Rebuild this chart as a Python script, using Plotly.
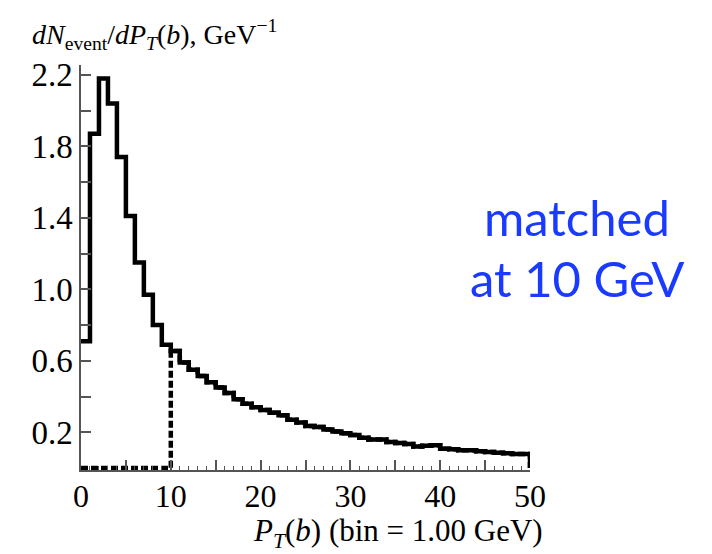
import plotly.graph_objects as go

# Bin edges (GeV) and per-bin contents of dN/dPT for the b quark
bin_edges = list(range(0, 51))
pt_counts = [
    0.71, 1.87, 2.18, 2.04, 1.74, 1.41, 1.15, 0.97, 0.80, 0.69,
    0.655, 0.59, 0.55, 0.515, 0.48, 0.45, 0.42, 0.385, 0.36, 0.34,
    0.325, 0.31, 0.295, 0.27, 0.255, 0.235, 0.23, 0.215, 0.205, 0.195,
    0.185, 0.17, 0.16, 0.16, 0.145, 0.14, 0.135, 0.12, 0.125, 0.128,
    0.108, 0.105, 0.10, 0.10, 0.094, 0.09, 0.085, 0.083, 0.078, 0.078,
]
match_pt = 10  # matching scale, GeV

# Matched sample: empty below the matching scale
matched_counts = [0.0 if e < match_pt else c for e, c in zip(bin_edges[:-1], pt_counts)]

# Tick positions
x_range = [0, 50]
y_range = [-0.011, 2.255]
x_long_ticks = list(range(0, 51, 5))
y_long_ticks = [round(0.2 * k, 1) for k in range(1, 12)]

fig = go.Figure()

# Dashed histogram (matched), closed back to zero at the last edge
fig.add_trace(go.Scatter(
    x=bin_edges,
    y=matched_counts + [0.0],
    mode="lines",
    line=dict(shape="hv", color="black", width=4.5, dash="7px,3px"),
    hoverinfo="skip",
))

# Solid histogram (full spectrum)
fig.add_trace(go.Scatter(
    x=bin_edges,
    y=pt_counts + [0.0],
    mode="lines",
    line=dict(shape="hv", color="black", width=4.5),
    hoverinfo="skip",
))

# Empty trace registering the overlay axes that carry the longer tick marks
fig.add_trace(go.Scatter(x=[], y=[], xaxis="x2", yaxis="y2",
                         mode="lines", hoverinfo="skip"))

serif = "Liberation Serif, Times New Roman, serif"
axis_color = "#555555"

fig.update_layout(
    template="none",
    width=712,
    height=554,
    margin=dict(l=81, r=182, t=65, b=84),
    paper_bgcolor="white",
    plot_bgcolor="white",
    showlegend=False,
    font=dict(family=serif, color="black"),
    xaxis=dict(
        range=x_range,
        tickmode="linear",
        tick0=0,
        dtick=10,
        ticks="inside",
        ticklen=10,
        tickwidth=1.5,
        tickcolor=axis_color,
        showline=True,
        linecolor=axis_color,
        linewidth=1.5,
        showgrid=False,
        zeroline=False,
        tickfont=dict(family=serif, size=32),
        ticklabelstandoff=-3,
        minor=dict(tickmode="linear", tick0=0, dtick=1, ticks="inside",
                   ticklen=4, tickcolor=axis_color, tickwidth=1.2, showgrid=False),
    ),
    yaxis=dict(
        range=y_range,
        tickmode="linear",
        tick0=0.2,
        dtick=0.4,
        tickformat=".1f",
        ticks="inside",
        ticklen=10,
        tickwidth=1.5,
        tickcolor=axis_color,
        showline=True,
        linecolor=axis_color,
        linewidth=1.5,
        showgrid=False,
        zeroline=False,
        tickfont=dict(family=serif, size=33),
    ),
    xaxis2=dict(
        range=x_range,
        overlaying="x",
        anchor="y",
        side="bottom",
        showline=False,
        showgrid=False,
        zeroline=False,
        showticklabels=False,
        tickmode="array",
        tickvals=[-100],
        ticks="inside",
        minor=dict(tickmode="array", tickvals=x_long_ticks, ticks="inside",
                   ticklen=10, tickcolor=axis_color, tickwidth=1.5, showgrid=False),
    ),
    yaxis2=dict(
        range=y_range,
        overlaying="y",
        anchor="x",
        side="left",
        showline=False,
        showgrid=False,
        zeroline=False,
        showticklabels=False,
        tickmode="array",
        tickvals=[-100],
        ticks="inside",
        minor=dict(tickmode="array", tickvals=y_long_ticks, ticks="inside",
                   ticklen=10, tickcolor=axis_color, tickwidth=1.5, showgrid=False),
    ),
    annotations=[
        dict(
            text="<i>dN</i><sub>event</sub>/<i>dP</i><sub><i>T</i></sub>(<i>b</i>), GeV<sup>\u22121</sup>",
            xref="paper", yref="paper",
            x=-0.1136, y=1.075,
            xanchor="left", yanchor="middle",
            showarrow=False,
            font=dict(family=serif, size=28, color="black"),
        ),
        dict(
            text="<i>P</i><sub><i>T</i></sub>(<i>b</i>) (bin = 1.00 GeV)",
            xref="paper", yref="paper",
            x=1.033, y=-0.155,
            xanchor="right", yanchor="middle",
            showarrow=False,
            font=dict(family=serif, size=31, color="black"),
        ),
        dict(
            text="matched",
            xref="paper", yref="paper",
            x=1.105, y=0.625,
            xanchor="center", yanchor="middle",
            showarrow=False,
            font=dict(family="Lato", size=49, color="#1a3bff"),
        ),
        dict(
            text="at 10 GeV",
            xref="paper", yref="paper",
            x=1.105, y=0.475,
            xanchor="center", yanchor="middle",
            showarrow=False,
            font=dict(family="Lato", size=49, color="#1a3bff"),
        ),
    ],
)

fig.write_html("out.html")
